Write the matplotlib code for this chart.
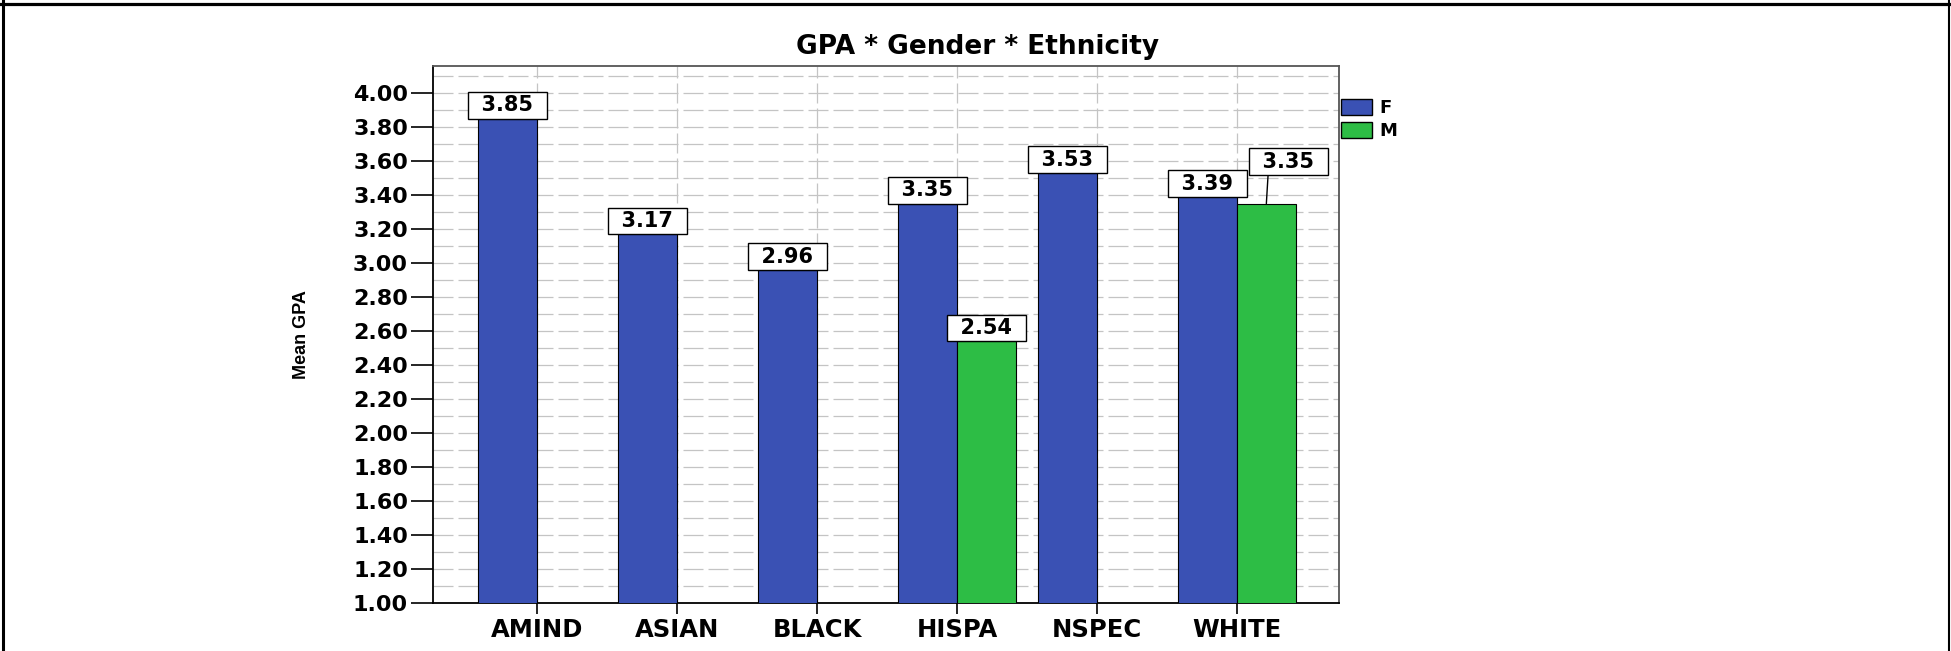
import numpy as np
import matplotlib
matplotlib.use("Agg")
import matplotlib.pyplot as plt
from matplotlib.patches import Patch
from matplotlib.lines import Line2D
from matplotlib.ticker import MultipleLocator, FormatStrFormatter

# data
ethnicity = ["AMIND", "ASIAN", "BLACK", "HISPA", "NSPEC", "WHITE"]
gpa_female = [3.85, 3.17, 2.96, 3.35, 3.53, 3.39]
gpa_male = [None, None, None, 2.54, None, 3.35]
genders = ["F", "M"]

BLUE = "#3a51b4"
GREEN = "#2dbd45"
W, H = 1951, 651

plt.rcParams["font.family"] = ["DejaVu Sans"]

fig = plt.figure(figsize=(W / 100, H / 100), dpi=100)
ax = fig.add_axes([433 / W, 1 - 603 / H, (1339 - 433) / W, (603 - 66) / H])

x = np.arange(len(ethnicity))
bw = 0.42

ax.bar(x - bw / 2, gpa_female, bw, color=BLUE, edgecolor="black", linewidth=0.8, zorder=3)
mi = [i for i, v in enumerate(gpa_male) if v is not None]
mv = [gpa_male[i] for i in mi]
ax.bar(x[mi] + bw / 2, mv, bw, color=GREEN, edgecolor="black", linewidth=0.8, zorder=3)

# axes / ticks
ax.set_ylim(1.0, 4.16)
ax.set_xlim(-0.743, 5.729)
ax.yaxis.set_major_locator(MultipleLocator(0.2))
ax.yaxis.set_minor_locator(MultipleLocator(0.1))
ax.yaxis.set_major_formatter(FormatStrFormatter("%.2f"))
ax.set_xticks(x)
ax.set_xticklabels(ethnicity)
ax.tick_params(axis="y", which="major", length=16, width=1.2, pad=2,
               labelsize=16, direction="out")
ax.tick_params(axis="y", which="minor", length=0)
ax.tick_params(axis="x", length=8, width=1.2, pad=3, labelsize=17.5, direction="out")
for lab in ax.get_xticklabels() + ax.get_yticklabels():
    lab.set_fontweight("bold")

ax.grid(axis="y", which="both", color="#c4c4c4", linestyle=(0, (16, 4)), linewidth=0.9, zorder=0)
ax.grid(axis="x", which="major", color="#c4c4c4", linestyle=(0, (16, 4)), linewidth=0.9, zorder=0)
for side in ["left", "bottom"]:
    ax.spines[side].set_color("black")
    ax.spines[side].set_linewidth(1.3)
for side in ["top", "right"]:
    ax.spines[side].set_color("#555555")
    ax.spines[side].set_linewidth(1.3)

ax.set_ylabel("Mean GPA", fontsize=13, fontweight="bold", family=["Liberation Sans", "DejaVu Sans"])
ax.yaxis.set_label_coords(-0.1358, 0.5)

fig.text(0.501, 1 - 47 / H, "GPA * Gender * Ethnicity", ha="center", va="center",
         fontsize=19, fontweight="bold")

# value labels (en spaces widen the box like the original)
box = dict(boxstyle="square,pad=0.16", facecolor="white", edgecolor="black", linewidth=1.0)
lab_kw = dict(textcoords="offset points", ha="center", va="bottom", fontsize=15,
              fontweight="bold", bbox=box, zorder=5)
for i, v in enumerate(gpa_female):
    ax.annotate(f"\u2002{v:.2f}\u2002", xy=(x[i] - bw / 2, v), xytext=(0, 2.4), **lab_kw)
for i, v in zip(mi, mv):
    if ethnicity[i] == "WHITE":
        ax.annotate(f"\u2002{v:.2f}\u2002", xy=(x[i] + bw / 2, v), xytext=(16, 23), **lab_kw,
                    arrowprops=dict(arrowstyle="-", color="black", lw=1.0, shrinkA=0, shrinkB=0,
                                    relpos=(0.22, 0)))
    else:
        ax.annotate(f"\u2002{v:.2f}\u2002", xy=(x[i] + bw / 2, v), xytext=(0, 2.4), **lab_kw)

# legend
handles = [Patch(facecolor=BLUE, edgecolor="black"), Patch(facecolor=GREEN, edgecolor="black")]
fig.legend(handles, genders, loc="upper left", bbox_to_anchor=(1341 / W, 1 - 99 / H),
           frameon=False, prop=dict(size=13, weight="bold"), handlelength=1.7,
           handleheight=0.95, handletextpad=0.4, labelspacing=0.3, borderpad=0, borderaxespad=0)

# outer frame (top, left, right)
fig.add_artist(Line2D([0, 1], [1 - 4 / H, 1 - 4 / H], transform=fig.transFigure, color="black", lw=2.3))
fig.add_artist(Line2D([3.3 / W, 3.3 / W], [0, 1], transform=fig.transFigure, color="black", lw=2.2))
fig.add_artist(Line2D([1949 / W, 1949 / W], [0, 1], transform=fig.transFigure, color="black", lw=1.5))

fig.savefig("out.png", dpi=100)
